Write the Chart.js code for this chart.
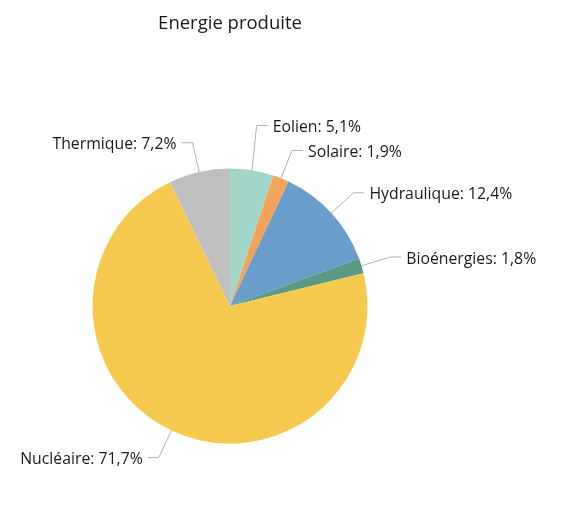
<!DOCTYPE html>
<html>
<head>
<meta charset="utf-8">
<script src="https://cdn.jsdelivr.net/npm/chart.js@4"></script>
<style>
  html, body { margin: 0; padding: 0; background: #fff; }
</style>
</head>
<body>
<canvas id="energie" width="569" height="515"></canvas>
<script>
const categories = ['Eolien', 'Solaire', 'Hydraulique', 'Bioénergies', 'Nucléaire', 'Thermique'];
const values     = [5.1, 1.9, 12.4, 1.8, 71.7, 7.2];
const colors     = ['#a1d6c9', '#f4a35a', '#6b9dcb', '#5c9a86', '#f6ca4e', '#bfbfbf'];
const titre      = 'Energie produite';

const fmt = v => v.toFixed(1).replace('.', ',') + '%';

// labels avec traits de liaison, façon Highcharts
const labelsPlugin = {
  id: 'labels',
  afterDatasetsDraw(chart) {
    const ctx = chart.ctx;
    const arcs = chart.getDatasetMeta(0).data;
    if (!arcs.length) return;
    const cx = arcs[0].x, cy = arcs[0].y, r = arcs[0].outerRadius;
    const dist = 30, gap = 25;

    // titre
    ctx.save();
    ctx.font = '18.5px "Open Sans", sans-serif';
    ctx.fillStyle = '#1a1a1a';
    ctx.textAlign = 'center';
    ctx.textBaseline = 'middle';
    ctx.fillText(titre, cx, 24);
    ctx.restore();

    const items = arcs.map((a, i) => {
      const mid = (a.startAngle + a.endAngle) / 2;
      const cos = Math.cos(mid), sin = Math.sin(mid);
      return {
        i,
        right: cos >= 0,
        sx: cx + r * cos, sy: cy + r * sin,
        ex: cx + (r + dist) * cos, ey: cy + (r + dist) * sin
      };
    });

    // éviter les chevauchements : on remonte depuis le bas
    [true, false].forEach(side => {
      const list = items.filter(it => it.right === side).sort((a, b) => b.ey - a.ey);
      for (let k = 1; k < list.length; k++) {
        if (list[k - 1].ey - list[k].ey < gap) list[k].ey = list[k - 1].ey - gap;
      }
    });

    ctx.save();
    ctx.font = '15.8px "Open Sans", sans-serif';
    ctx.textBaseline = 'middle';
    items.forEach(it => {
      const dir = it.right ? 1 : -1;
      const hx = it.ex + dir * 11;
      ctx.strokeStyle = '#b0b0b0';
      ctx.lineWidth = 1;
      ctx.beginPath();
      ctx.moveTo(it.sx, it.sy);
      ctx.lineTo(it.ex, it.ey);
      ctx.lineTo(hx, it.ey);
      ctx.stroke();
      ctx.fillStyle = '#1a1a1a';
      ctx.textAlign = it.right ? 'left' : 'right';
      ctx.fillText(categories[it.i] + ': ' + fmt(values[it.i]), hx + dir * 5, it.ey + 2);
    });
    ctx.restore();
  }
};

new Chart(document.getElementById('energie').getContext('2d'), {
  type: 'pie',
  data: {
    labels: categories,
    datasets: [{
      data: values,
      backgroundColor: colors,
      borderWidth: 0
    }]
  },
  options: {
    responsive: false,
    animation: false,
    layout: { padding: { left: 92.5, right: 201.5, top: 168.5, bottom: 71.5 } },
    plugins: {
      legend: { display: false },
      tooltip: { enabled: false },
      title: { display: false }
    }
  },
  plugins: [labelsPlugin]
});
</script>
</body>
</html>
